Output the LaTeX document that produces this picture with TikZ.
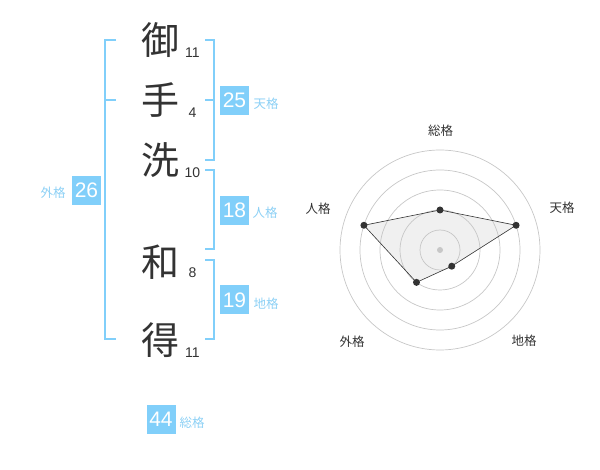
\documentclass[tikz,border=0pt]{standalone}
\usepackage{fontspec}
\setmainfont{Liberation Sans}
\newfontfamily\cjk{Noto Sans CJK JP}
\definecolor{sky}{RGB}{129,207,250}
\definecolor{skytxt}{RGB}{140,208,245}
\definecolor{ink}{RGB}{51,51,51}
\begin{document}
\begin{tikzpicture}[x=1pt,y=-1pt,
  kanji/.style={font=\cjk\fontsize{38}{38}\selectfont,text=ink,inner sep=0pt},
  strokes/.style={font=\fontsize{14}{14}\selectfont,text=ink,inner sep=0pt},
  valbox/.style={fill=sky,text=white,minimum width=29pt,minimum height=29pt,inner sep=0pt,font=\fontsize{21}{21}\selectfont},
  vallab/.style={font=\cjk\fontsize{12.5}{12.5}\selectfont,text=skytxt,inner sep=0pt},
  brk/.style={draw=sky,line width=2pt},
  ring/.style={draw=black!22,line width=0.7pt},
  axlab/.style={font=\cjk\fontsize{12.5}{12.5}\selectfont,text=ink,inner sep=0pt},
  dot/.style={circle,fill=ink,inner sep=0pt,minimum size=7pt}]
\useasboundingbox (0,0) rectangle (600,470);
% kanji
\node[kanji] (k1) at (160,40) {御};
\node[kanji] (k2) at (160,100) {手};
\node[kanji] (k3) at (160,160) {洗};
\node[kanji] (k4) at (160,262) {和};
\node[kanji] (k5) at (160,340) {得};
\node[strokes] (s1) at (192.5,52.5) {11};
\node[strokes] (s2) at (192.5,113) {4};
\node[strokes] (s3) at (192.5,173) {10};
\node[strokes] (s4) at (192.5,272.5) {8};
\node[strokes] (s5) at (192.5,352.5) {11};
% left bracket
\draw[brk] (116,40) -- (105,40) -- (105,339) -- (116,339);
\draw[brk] (105,100) -- (116,100);
\node[valbox] (gai) at (86.5,190.5) {26};
\node[vallab] (gail) at (53,193) {外格};
% right brackets
\draw[brk] (205,40) -- (214,40) -- (214,160) -- (205,160);
\draw[brk] (205,100) -- (214,100);
\node[valbox] (ten) at (234.5,100.3) {25};
\node[vallab] (tenl) at (266,103.5) {天格};
\draw[brk] (205,170) -- (214,170) -- (214,249) -- (205,249);
\node[valbox] (jin) at (234.5,210.3) {18};
\node[vallab] (jinl) at (265,213) {人格};
\draw[brk] (205,260) -- (214,260) -- (214,339) -- (205,339);
\node[valbox] (chi) at (234.5,300) {19};
\node[vallab] (chil) at (266,303.5) {地格};
\node[valbox] (sou) at (161,419.5) {44};
\node[vallab] (soul) at (192,422.5) {総格};
% radar
\coordinate (c) at (440,250);
\coordinate (p1) at (440,210);
\path (440,250) ++(-18:80) coordinate (p2);
\path (440,250) ++(54:20) coordinate (p3);
\path (440,250) ++(126:40) coordinate (p4);
\path (440,250) ++(198:80) coordinate (p5);
\fill[black!6] (p1) -- (p2) -- (p3) -- (p4) -- (p5) -- cycle;
\foreach \r in {20,40,60,80,100} \draw[ring] (c) circle[radius=\r];
\draw[ink,line width=0.6pt] (p1) -- (p2) -- (p3) -- (p4) -- (p5) -- cycle;
\node[circle,fill=black!22,inner sep=0pt,minimum size=6pt] (cd) at (c) {};
\node[dot] (d1) at (p1) {};
\node[dot] (d2) at (p2) {};
\node[dot] (d3) at (p3) {};
\node[dot] (d4) at (p4) {};
\node[dot] (d5) at (p5) {};
\node[axlab] (a1) at (440.5,130.5) {総格};
\node[axlab] (a2) at (562,208) {天格};
\node[axlab] (a3) at (524,341) {地格};
\node[axlab] (a4) at (352,342) {外格};
\node[axlab] (a5) at (318,209) {人格};
\end{tikzpicture}
\end{document}
